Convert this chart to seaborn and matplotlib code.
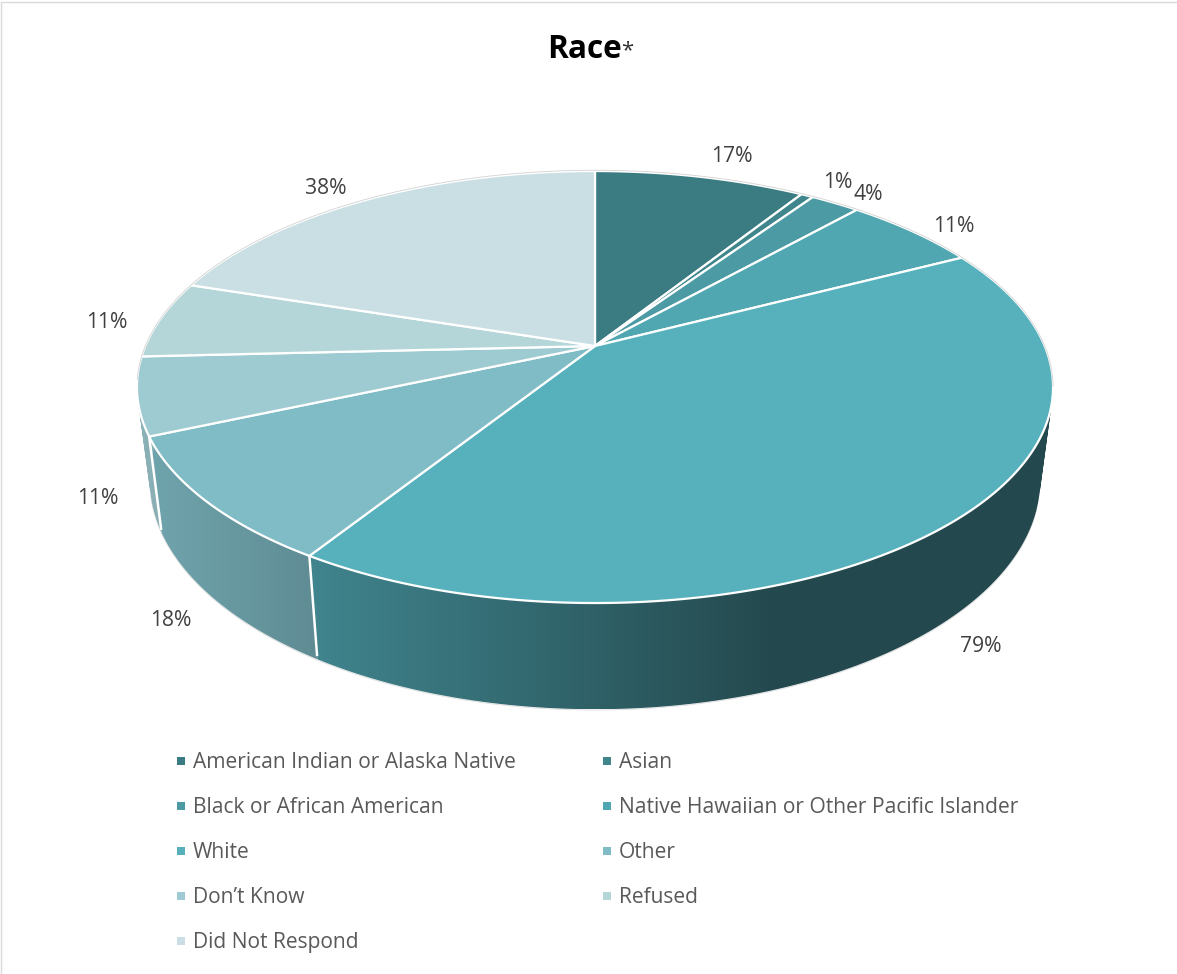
#!/usr/bin/env python3
"""Race pie chart, drawn as a tilted 3D pie"""

import numpy as np
import matplotlib
matplotlib.use('Agg')
import matplotlib.pyplot as plt
from matplotlib.path import Path
from matplotlib.patches import PathPatch
import seaborn as sns

# Chart data
categories = ['American Indian or Alaska Native', 'Asian', 'Black or African American',
              'Native Hawaiian or Other Pacific Islander', 'White', 'Other',
              'Don\u2019t Know', 'Refused', 'Did Not Respond']
percents = [17, 1, 4, 11, 79, 18, 11, 11, 38]
slice_colors = ['#3a7c82', '#3f868c', '#4b9aa4', '#50a6b1', '#56b1bd',
                '#80bcc6', '#9ecad1', '#b5d6d8', '#c9dfe4']

# Label placement, picked by eye (pixels)
label_xy = [(732, 157), (838, 182), (868, 194), (954, 226), (981, 647),
            (171, 621), (98, 499), (107, 322), (326, 189)]

# Perspective of the pie (pixels)
CX, CY = 595, 346
RX, RY, TILT = 449.7, 208.2, 0.19
TEXT_COLOR = '#404040'

sns.set_theme(style='white')
plt.rcParams['font.family'] = ['Open Sans', 'DejaVu Sans']


def rim(theta, bottom=False):
    """Project rim angles (clockwise from top, radians) to pixels"""
    den = 1 + TILT * np.cos(theta)
    x = CX + RX * np.sin(theta) / den
    y = CY - RY * np.cos(theta) / den
    if bottom:
        x = CX + 0.972 * (x - CX)
        y = 1.06 * y + 70
    return x, y


def draw_wall(ax, a0, a1, color):
    """Side wall of one slice, a horizontal gradient clipped to the wall shape"""
    edges = np.linspace(a0, a1, max(int((a1 - a0) / np.radians(1)), 1) + 1)
    quads = []
    for t0, t1 in zip(edges[:-1], edges[1:]):
        x0, y0 = rim(np.array([t0, t1]))
        x1, y1 = rim(np.array([t1, t0]), bottom=True)
        qx, qy = np.r_[x0, x1], np.r_[y0, y1]
        # keep all quads wound the same way so the union fills without holes
        area = np.sum(qx * np.roll(qy, -1) - np.roll(qx, -1) * qy)
        if area < 0:
            qx, qy = qx[::-1], qy[::-1]
        quads.append(Path(np.c_[np.r_[qx, qx[0]], np.r_[qy, qy[0]]], closed=True))
    clip = PathPatch(Path.make_compound_path(*quads), transform=ax.transData,
                     facecolor='none', edgecolor='none')
    ax.add_patch(clip)

    verts = clip.get_path().vertices
    xmin, xmax = verts[:, 0].min(), verts[:, 0].max()
    ymin, ymax = verts[:, 1].min(), verts[:, 1].max()
    xs = np.linspace(xmin, xmax, 256)
    shade = np.interp(xs, [140, 310, 780], [0.88, 0.75, 0.41])
    grad = np.outer(shade, np.array(matplotlib.colors.to_rgb(color)))[np.newaxis, :, :]
    im = ax.imshow(grad, extent=(xmin, xmax, ymax, ymin), aspect='auto',
                   interpolation='bilinear', zorder=2)
    im.set_clip_path(clip)


def main():
    fig, ax = plt.subplots(figsize=(11.77, 9.74), dpi=100)
    fig.subplots_adjust(0, 0, 1, 1)

    palette = sns.color_palette(slice_colors)
    bounds = np.radians(np.r_[0, np.cumsum(percents)] / sum(percents) * 360)

    for i, color in enumerate(palette):
        draw_wall(ax, bounds[i], bounds[i + 1], color)

    ax.set_xlim(0, 1177)
    ax.set_ylim(974, 0)
    ax.axis('off')

    # Chart border, only the top and left show
    ax.plot([1, 1], [974, 1.5], color='#d9d9d9', lw=1)
    ax.plot([1, 1177], [1.5, 1.5], color='#d9d9d9', lw=1)

    # White lines between the visible walls, stopping just short of the base
    for b in bounds[1:-1]:
        x0, y0 = rim(b)
        x1, y1 = rim(b, bottom=True)
        if np.pi / 2 < b < 1.6 * np.pi:
            ax.plot([x0, x0 + 0.97 * (x1 - x0)], [y0, y0 + 0.97 * (y1 - y0)],
                    color='white', lw=1.8, zorder=3, solid_capstyle='butt')

    # Top faces
    for i, color in enumerate(palette):
        t = np.linspace(bounds[i], bounds[i + 1], 200)
        x, y = rim(t)
        ax.fill(np.r_[CX, x], np.r_[CY, y], facecolor=color, edgecolor='white',
                lw=1.6, joinstyle='round', zorder=4)

    # Thin grey outline seen around the pie
    t = np.linspace(-0.55 * np.pi, 0.56 * np.pi, 300)
    x, y = rim(t)
    ax.plot(x, y - 0.8 * np.cos(t), color='#d2d2d2', lw=0.6, zorder=5)
    t = np.linspace(0.6 * np.pi, 1.42 * np.pi, 300)
    x, y = rim(t, bottom=True)
    ax.plot(x, y + 0.8, color='#dcdcdc', lw=0.6, zorder=1)

    for text, (lx, ly) in zip([f'{p}%' for p in percents], label_xy):
        ax.text(lx, ly, text, ha='center', va='center', fontsize=15.2,
                color=TEXT_COLOR)

    # Title, the star is set smaller and not bold
    ax.text(547, 49, 'Race', ha='left', va='center', fontsize=22.7,
            fontweight='bold', color='black')
    ax.text(621, 51, '*', ha='left', va='center', fontsize=16, color='#303030')

    # Legend, filled across then down
    for i, (name, color) in enumerate(zip(categories, palette)):
        row, col = divmod(i, 2)
        y = 761 + 45 * row
        ax.scatter([181 + 425.5 * col], [y], marker='s', s=34, color=color,
                   linewidths=0, zorder=4)
        ax.text(193 + 426 * col, y + 1.5, name, ha='left', va='center', fontsize=15.1,
                color='#595959')

    fig.savefig('out.png', dpi=100, facecolor='white')


if __name__ == "__main__":
    main()
